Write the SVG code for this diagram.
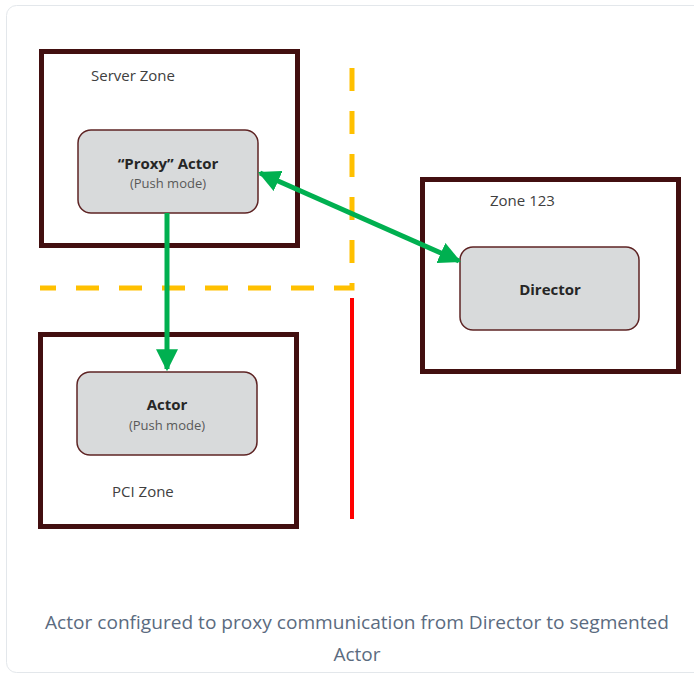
<svg xmlns="http://www.w3.org/2000/svg" width="694" height="675" viewBox="0 0 694 675">
  <style>
    .zone { fill: #ffffff; stroke: #420f10; stroke-width: 5; }
    .node { fill: #d8dadb; stroke: #5e2424; stroke-width: 1.5; }
    .zlabel { font-family: "Open Sans", "Liberation Sans", sans-serif; font-size: 15px; fill: #404040; }
    .title { font-family: "Open Sans", "Liberation Sans", sans-serif; font-size: 15px; font-weight: bold; fill: #262626; text-anchor: middle; }
    .sub { font-family: "Open Sans", "Liberation Sans", sans-serif; font-size: 13px; fill: #595959; text-anchor: middle; }
    .caption { font-family: "Open Sans", "Liberation Sans", sans-serif; font-size: 19px; fill: #5b6b80; text-anchor: middle; }
    .arrow { stroke: #00b050; stroke-width: 5; fill: none; }
  </style>
  <defs>
    <marker id="ah" viewBox="0 0 10 10" refX="9" refY="5" markerWidth="4.4" markerHeight="4.4" markerUnits="strokeWidth" orient="auto-start-reverse">
      <path d="M0,0 L10,5 L0,10 z" fill="#00b050"/>
    </marker>
  </defs>
  <rect x="6.5" y="5.5" width="700" height="667" rx="10" fill="#ffffff" stroke="#e3e7eb" stroke-width="1"/>

  <g id="boundaries">
    <path d="M352,68 V288 H40" fill="none" stroke="#ffc000" stroke-width="5" stroke-dasharray="23 20"/>
    <line x1="352" y1="298" x2="352" y2="519" stroke="#ff0000" stroke-width="4"/>
  </g>

  <g id="server-zone">
    <rect class="zone" x="41.5" y="51.5" width="256" height="194"/>
    <text class="zlabel" x="91" y="81">Server Zone</text>
  </g>
  <g id="zone-123">
    <rect class="zone" x="422.5" y="179.5" width="256" height="192"/>
    <text class="zlabel" x="490" y="206">Zone 123</text>
  </g>
  <g id="pci-zone">
    <rect class="zone" x="40.5" y="334.5" width="256" height="192"/>
    <text class="zlabel" x="112" y="497">PCI Zone</text>
  </g>

  <g id="proxy-actor">
    <rect class="node" x="78" y="130" width="180" height="83" rx="13"/>
    <text class="title" x="168" y="169">“Proxy” Actor</text>
    <text class="sub" x="168" y="188">(Push mode)</text>
  </g>
  <g id="director">
    <rect class="node" x="460" y="247" width="179" height="83" rx="13"/>
    <text class="title" x="550" y="295">Director</text>
  </g>
  <g id="actor">
    <rect class="node" x="77" y="372" width="180" height="83" rx="13"/>
    <text class="title" x="167" y="410">Actor</text>
    <text class="sub" x="167" y="430">(Push mode)</text>
  </g>

  <g id="connectors">
    <line class="arrow" x1="167" y1="213" x2="167" y2="369" marker-end="url(#ah)"/>
    <line class="arrow" x1="260" y1="173" x2="459" y2="261" marker-start="url(#ah)" marker-end="url(#ah)"/>
  </g>

  <g id="caption">
    <text class="caption" x="357" y="629" textLength="624" lengthAdjust="spacingAndGlyphs">Actor configured to proxy communication from Director to segmented</text>
    <text class="caption" x="357" y="661">Actor</text>
  </g>
</svg>
